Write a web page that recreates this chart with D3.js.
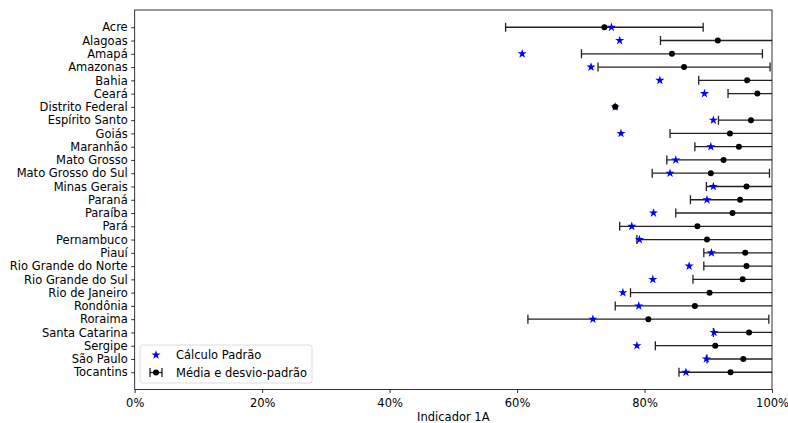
<!DOCTYPE html>
<html>
<head>
<meta charset="utf-8">
<script src="https://cdn.jsdelivr.net/npm/d3@7"></script>
<style>
  body { margin: 0; background: #fff; }
  text { font-family: "DejaVu Sans", sans-serif; }
</style>
</head>
<body>
<svg id="chart" width="788" height="423"></svg>
<script>
// states (top to bottom)
const states = ["Acre", "Alagoas", "Amapá", "Amazonas", "Bahia", "Ceará", "Distrito Federal",
  "Espírito Santo", "Goiás", "Maranhão", "Mato Grosso", "Mato Grosso do Sul", "Minas Gerais",
  "Paraná", "Paraíba", "Pará", "Pernambuco", "Piauí", "Rio Grande do Norte", "Rio Grande do Sul",
  "Rio de Janeiro", "Rondônia", "Roraima", "Santa Catarina", "Sergipe", "São Paulo", "Tocantins"];

// Cálculo Padrão
const padrao = [0.748, 0.761, 0.608, 0.716, 0.824, 0.894, 0.754, 0.908, 0.763, 0.904, 0.849, 0.840,
  0.908, 0.898, 0.814, 0.780, 0.792, 0.905, 0.870, 0.813, 0.766, 0.791, 0.719, 0.909, 0.788, 0.897, 0.865];

// Média
const media = [0.737, 0.915, 0.843, 0.862, 0.961, 0.977, 0.754, 0.967, 0.934, 0.948, 0.924, 0.904,
  0.960, 0.950, 0.938, 0.883, 0.898, 0.958, 0.960, 0.954, 0.902, 0.879, 0.806, 0.964, 0.911, 0.955, 0.935];

// desvio-padrão
const desvio = [0.155, 0.090, 0.142, 0.135, 0.076, 0.046, 0.000, 0.051, 0.094, 0.069, 0.089, 0.092,
  0.063, 0.078, 0.089, 0.122, 0.110, 0.065, 0.067, 0.078, 0.124, 0.125, 0.189, 0.056, 0.094, 0.057, 0.081];

const xTicks = [0, 0.2, 0.4, 0.6, 0.8, 1.0];

const margin = { top: 10, right: 16, bottom: 33.5, left: 134.7 };
const W = 788, H = 423;
const FS = 11.5;

const svg = d3.select("#chart");

const x = d3.scaleLinear().domain([0, 1]).range([margin.left, W - margin.right]);
const y = d3.scalePoint().domain(states).range([margin.top, H - margin.bottom]).padding(1.3);

svg.append("clipPath").attr("id", "clip")
  .append("rect")
  .attr("x", margin.left).attr("y", margin.top)
  .attr("width", W - margin.right - margin.left)
  .attr("height", H - margin.bottom - margin.top);

const rows = states.map((s, i) => ({ state: s, padrao: padrao[i], media: media[i], sd: desvio[i] }));

const plot = svg.append("g").attr("clip-path", "url(#clip)");

// error bars
const eb = plot.selectAll("g.eb").data(rows).join("g").attr("class", "eb");
eb.filter(d => d.sd > 0).append("line")
  .attr("x1", d => x(d.media - d.sd)).attr("x2", d => x(d.media + d.sd))
  .attr("y1", d => y(d.state)).attr("y2", d => y(d.state))
  .attr("stroke", "#222").attr("stroke-width", 1.3);
eb.filter(d => d.sd > 0).selectAll("line.cap")
  .data(d => [d.media - d.sd, d.media + d.sd].map(v => ({ v, st: d.state })))
  .join("line").attr("class", "cap")
  .attr("x1", c => x(c.v)).attr("x2", c => x(c.v))
  .attr("y1", c => y(c.st) - 4.5).attr("y2", c => y(c.st) + 4.5)
  .attr("stroke", "#222").attr("stroke-width", 1.3);

// stars
const star = d3.symbol().type(d3.symbolStar).size(26);
plot.selectAll("path.star").data(rows).join("path")
  .attr("class", "star")
  .attr("d", star)
  .attr("transform", d => `translate(${x(d.padrao)},${y(d.state)})`)
  .attr("fill", "#0000ff");

// means
plot.selectAll("circle.mean").data(rows).join("circle")
  .attr("class", "mean")
  .attr("cx", d => x(d.media)).attr("cy", d => y(d.state))
  .attr("r", 3)
  .attr("fill", "#000");

// axes
const xAxis = d3.axisBottom(x).tickValues(xTicks).tickFormat(d3.format(".0%")).tickSizeOuter(0).tickSize(3.5).tickPadding(5.5);
const gx = svg.append("g").attr("transform", `translate(0,${H - margin.bottom})`).call(xAxis);
const yAxis = d3.axisLeft(y).tickSizeOuter(0).tickSize(3.5).tickPadding(3.5);
const gy = svg.append("g").attr("transform", `translate(${margin.left},0)`).call(yAxis);
[gx, gy].forEach(g => {
  g.selectAll("text").attr("font-family", "DejaVu Sans, sans-serif").attr("font-size", FS).attr("fill", "#000");
  g.selectAll("line").attr("stroke", "#000").attr("stroke-width", 0.8);
  g.select(".domain").remove();
});

// frame
svg.append("rect")
  .attr("x", margin.left).attr("y", margin.top)
  .attr("width", W - margin.right - margin.left)
  .attr("height", H - margin.bottom - margin.top)
  .attr("fill", "none").attr("stroke", "#000").attr("stroke-width", 0.8);

svg.append("text")
  .attr("x", (margin.left + W - margin.right) / 2).attr("y", 421)
  .attr("text-anchor", "middle").attr("font-size", FS)
  .text("Indicador 1A");

// legend
const lg = svg.append("g").attr("transform", "translate(140,345)");
lg.append("rect").attr("width", 172).attr("height", 38).attr("rx", 2.5)
  .attr("fill", "#fff").attr("fill-opacity", 0.8).attr("stroke", "#d5d5d5").attr("stroke-width", 0.8);
lg.append("path").attr("d", star).attr("transform", "translate(16,10)").attr("fill", "#0000ff");
lg.append("text").attr("x", 36).attr("y", 10).attr("dy", "0.35em").attr("font-size", FS).text("Cálculo Padrão");
const le = lg.append("g").attr("transform", "translate(16,27.5)");
le.append("line").attr("x1", -6).attr("x2", 6).attr("stroke", "#222").attr("stroke-width", 1.3);
le.append("line").attr("x1", -6).attr("x2", -6).attr("y1", -4.5).attr("y2", 4.5).attr("stroke", "#222").attr("stroke-width", 1.3);
le.append("line").attr("x1", 6).attr("x2", 6).attr("y1", -4.5).attr("y2", 4.5).attr("stroke", "#222").attr("stroke-width", 1.3);
le.append("circle").attr("r", 3).attr("fill", "#000");
lg.append("text").attr("x", 36).attr("y", 27.5).attr("dy", "0.35em").attr("font-size", FS).text("Média e desvio-padrão");
</script>
</body>
</html>
